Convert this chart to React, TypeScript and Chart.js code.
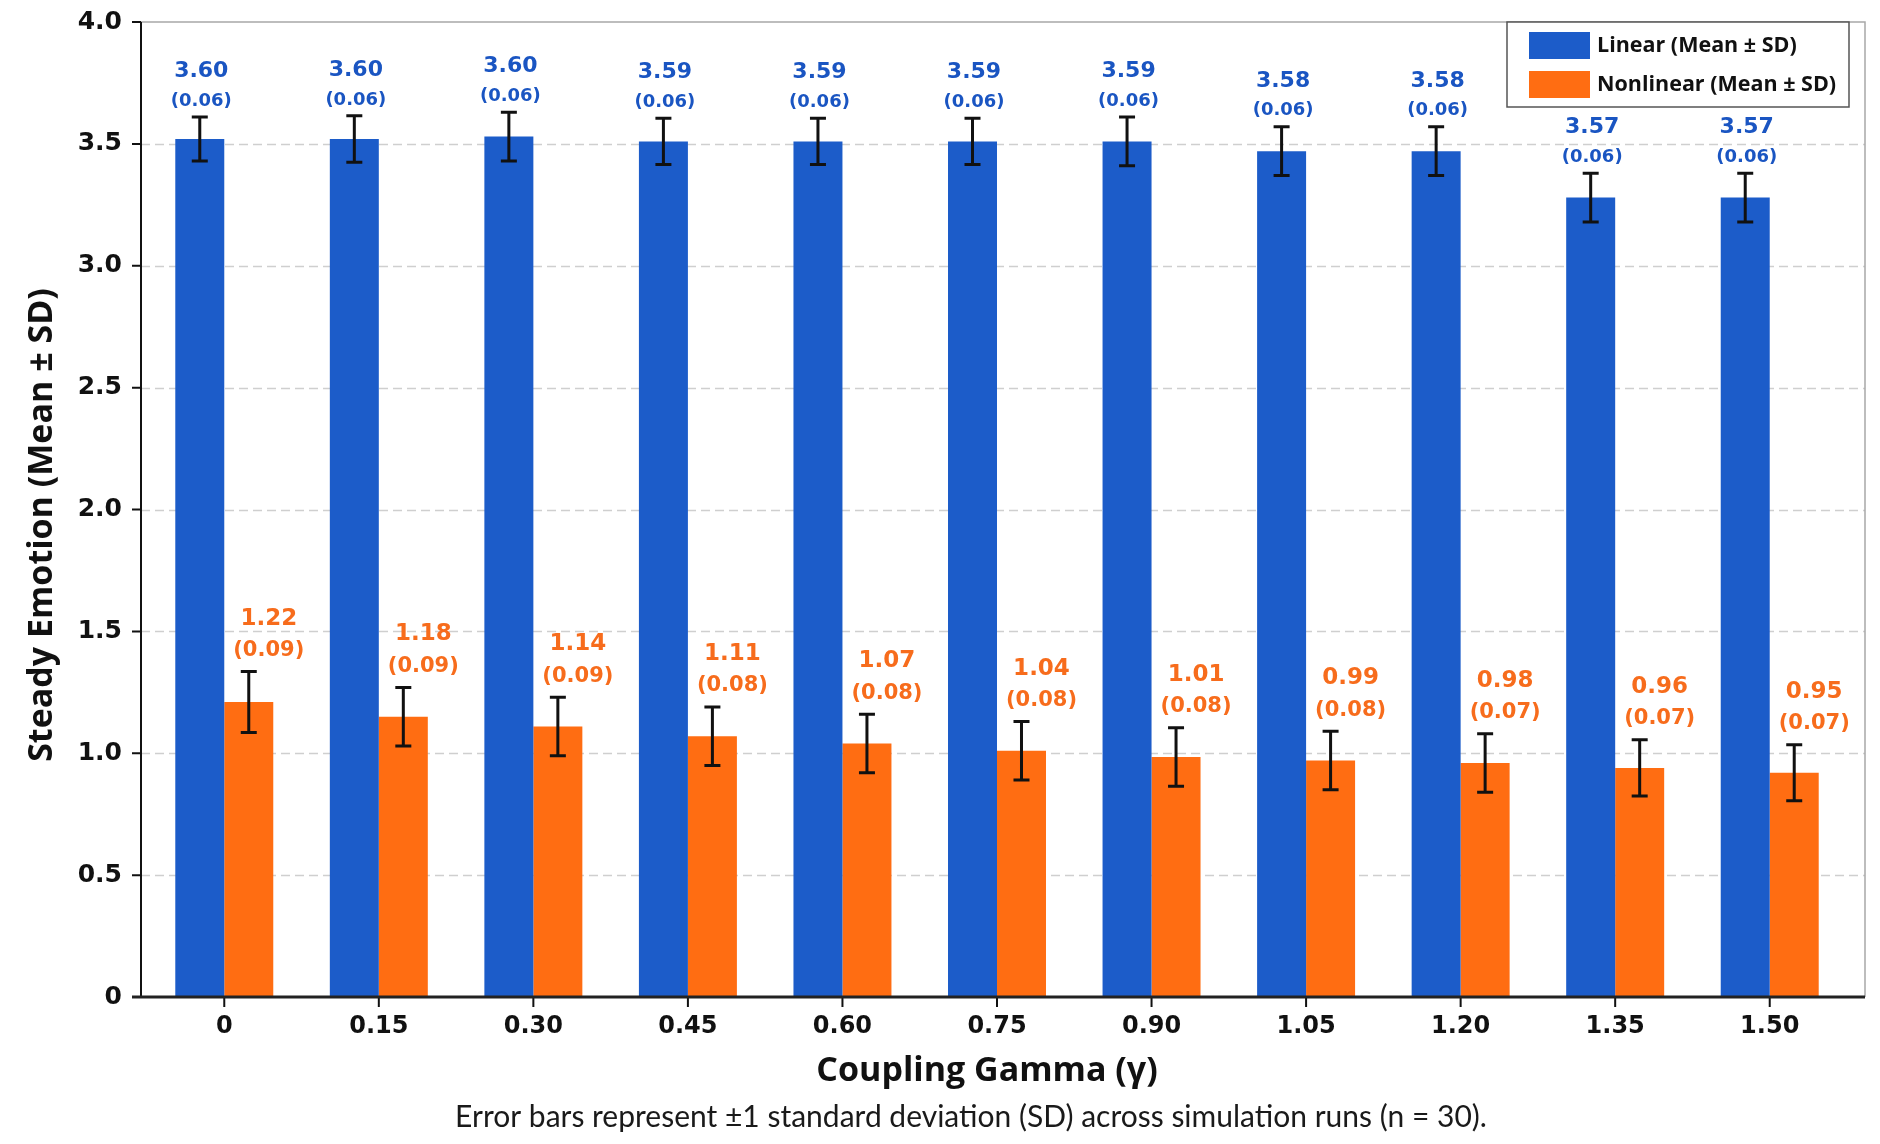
import React, { useEffect, useRef } from 'react';
import { Chart, registerables } from 'chart.js';

Chart.register(...registerables);

// coupling gamma values on the x axis
const categories = ['0', '0.15', '0.30', '0.45', '0.60', '0.75', '0.90', '1.05', '1.20', '1.35', '1.50'];

// bar heights and error-bar half lengths as drawn in the figure
const linearMean = [3.52, 3.52, 3.53, 3.51, 3.51, 3.51, 3.51, 3.47, 3.47, 3.28, 3.28];
const linearSd = [0.09, 0.095, 0.1, 0.095, 0.095, 0.095, 0.1, 0.1, 0.1, 0.1, 0.1];
const nonlinearMean = [1.21, 1.15, 1.11, 1.07, 1.04, 1.01, 0.985, 0.97, 0.96, 0.94, 0.92];
const nonlinearSd = [0.125, 0.12, 0.12, 0.12, 0.12, 0.12, 0.12, 0.12, 0.12, 0.115, 0.115];

// numbers printed above the bars
const linearLabel = [3.6, 3.6, 3.6, 3.59, 3.59, 3.59, 3.59, 3.58, 3.58, 3.57, 3.57];
const linearSdLabel = [0.06, 0.06, 0.06, 0.06, 0.06, 0.06, 0.06, 0.06, 0.06, 0.06, 0.06];
const nonlinearLabel = [1.22, 1.18, 1.14, 1.11, 1.07, 1.04, 1.01, 0.99, 0.98, 0.96, 0.95];
const nonlinearSdLabel = [0.09, 0.09, 0.09, 0.08, 0.08, 0.08, 0.08, 0.08, 0.07, 0.07, 0.07];

const yTicks = [0, 0.5, 1, 1.5, 2, 2.5, 3, 3.5, 4];

const BLUE = '#1c5cc9';
const ORANGE = '#ff6d12';
const BLUE_TEXT = '#1a55c2';
const ORANGE_TEXT = '#f76c1c';
const NUM_FONT = '"DejaVu Sans", Verdana, sans-serif';
const TITLE_FONT = '"Open Sans", "Noto Sans", sans-serif';
const AXIS_X = 141;
const FRAME_RIGHT = 1865;

const sdList = [linearSd, nonlinearSd];
const labelList = [linearLabel, nonlinearLabel];
const sdLabelList = [linearSdLabel, nonlinearSdLabel];

const overlay = {
  id: 'overlay',
  beforeDatasetsDraw(chart: any) {
    const { ctx, chartArea, scales } = chart;
    const y = scales.y;
    ctx.save();
    // dashed grid
    ctx.strokeStyle = '#cfcfcf';
    ctx.lineWidth = 1.5;
    ctx.setLineDash([9, 5]);
    yTicks.forEach((t) => {
      if (t === 0 || t === 4) return;
      const py = Math.round(y.getPixelForValue(t)) + 0.5;
      ctx.beginPath();
      ctx.moveTo(AXIS_X, py);
      ctx.lineTo(FRAME_RIGHT, py);
      ctx.stroke();
    });
    ctx.setLineDash([]);
    // top and right frame
    ctx.strokeStyle = '#a8a8a8';
    ctx.lineWidth = 1.5;
    const top = y.getPixelForValue(4);
    ctx.beginPath();
    ctx.moveTo(AXIS_X, top);
    ctx.lineTo(FRAME_RIGHT, top);
    ctx.lineTo(FRAME_RIGHT, chartArea.bottom);
    ctx.stroke();
    ctx.restore();
  },
  afterDatasetsDraw(chart: any) {
    const { ctx, scales } = chart;
    const x = scales.x;
    const y = scales.y;
    ctx.save();
    chart.data.datasets.forEach((ds: any, di: number) => {
      const meta = chart.getDatasetMeta(di);
      meta.data.forEach((bar: any, i: number) => {
        const mean = ds.data[i];
        const sd = sdList[di][i];
        const yTop = y.getPixelForValue(mean + sd);
        const yBot = y.getPixelForValue(mean - sd);
        const bx = bar.x;
        ctx.strokeStyle = '#111';
        ctx.lineWidth = 3;
        ctx.beginPath();
        ctx.moveTo(bx, yTop);
        ctx.lineTo(bx, yBot);
        ctx.moveTo(bx - 8, yTop);
        ctx.lineTo(bx + 8, yTop);
        ctx.moveTo(bx - 8, yBot);
        ctx.lineTo(bx + 8, yBot);
        ctx.stroke();

        ctx.textAlign = 'center';
        ctx.textBaseline = 'middle';
        if (di === 0) {
          ctx.fillStyle = BLUE_TEXT;
          ctx.font = `bold 22px ${NUM_FONT}`;
          ctx.fillText(labelList[di][i].toFixed(2), bx + 1.5, yTop - 46);
          ctx.font = `bold 18px ${NUM_FONT}`;
          ctx.fillText(`(${sdLabelList[di][i].toFixed(2)})`, bx + 1.5, yTop - 16);
        } else {
          // the orange numbers sit a little to the right of their bar
          ctx.fillStyle = ORANGE_TEXT;
          ctx.font = `bold 23px ${NUM_FONT}`;
          ctx.fillText(labelList[di][i].toFixed(2), bx + 20, yTop - 53);
          ctx.font = `bold 21px ${NUM_FONT}`;
          ctx.fillText(`(${sdLabelList[di][i].toFixed(2)})`, bx + 20, yTop - 21);
        }
      });
    });

    // axes with their tick marks
    const y0 = y.getPixelForValue(0);
    const y4 = y.getPixelForValue(4);
    ctx.strokeStyle = '#111';
    ctx.lineWidth = 2;
    ctx.beginPath();
    ctx.moveTo(AXIS_X, y4);
    ctx.lineTo(AXIS_X, y0);
    yTicks.forEach((t) => {
      const py = y.getPixelForValue(t);
      ctx.moveTo(AXIS_X - 9, py);
      ctx.lineTo(AXIS_X, py);
    });
    categories.forEach((_, i) => {
      const px = x.getPixelForValue(i);
      ctx.moveTo(px, y0);
      ctx.lineTo(px, y0 + 10);
    });
    ctx.stroke();
    ctx.strokeStyle = '#222';
    ctx.lineWidth = 3;
    ctx.beginPath();
    ctx.moveTo(AXIS_X - 9, y0);
    ctx.lineTo(FRAME_RIGHT, y0);
    ctx.stroke();
    ctx.restore();
  },
  afterDraw(chart: any) {
    const { ctx } = chart;
    ctx.save();
    // axis titles and note
    ctx.fillStyle = '#111';
    ctx.font = `bold 34px ${TITLE_FONT}`;
    ctx.textAlign = 'center';
    ctx.textBaseline = 'alphabetic';
    ctx.fillText('Coupling Gamma (γ)', 987, 1081);
    ctx.save();
    ctx.translate(52, 525);
    ctx.rotate(-Math.PI / 2);
    ctx.fillText('Steady Emotion (Mean ± SD)', 0, 0);
    ctx.restore();
    ctx.font = `30px Lato, ${TITLE_FONT}`;
    ctx.fillStyle = '#1a1a1a';
    ctx.fillText('Error bars represent ±1 standard deviation (SD) across simulation runs (n = 30).', 971, 1127);

    // legend
    ctx.fillStyle = '#fff';
    ctx.fillRect(1507, 22, 342, 85);
    ctx.strokeStyle = '#555';
    ctx.lineWidth = 1.5;
    ctx.strokeRect(1507, 22, 342, 85);
    const items = [
      { text: 'Linear (Mean ± SD)', color: BLUE, y: 32 },
      { text: 'Nonlinear (Mean ± SD)', color: ORANGE, y: 71 },
    ];
    ctx.font = `bold 21.5px ${TITLE_FONT}`;
    ctx.textAlign = 'left';
    ctx.textBaseline = 'middle';
    items.forEach((it) => {
      ctx.fillStyle = it.color;
      ctx.fillRect(1529, it.y, 61, 27);
      ctx.fillStyle = '#111';
      ctx.fillText(it.text, 1597, it.y + 14);
    });
    ctx.restore();
  },
};

const App: React.FC = () => {
  const chartRef = useRef<HTMLCanvasElement | null>(null);
  const chartInstanceRef = useRef<Chart | null>(null);

  useEffect(() => {
    document.body.style.margin = '0';
    document.body.style.background = '#fff';
    if (chartRef.current) {
      const ctx = chartRef.current.getContext('2d');
      if (ctx) {
        chartInstanceRef.current = new Chart(ctx, {
          type: 'bar',
          data: {
            labels: categories,
            datasets: [
              {
                label: 'Linear (Mean ± SD)',
                data: linearMean,
                backgroundColor: BLUE,
                borderWidth: 0,
                categoryPercentage: 0.634,
                barPercentage: 1.0,
              },
              {
                label: 'Nonlinear (Mean ± SD)',
                data: nonlinearMean,
                backgroundColor: ORANGE,
                borderWidth: 0,
                categoryPercentage: 0.634,
                barPercentage: 1.0,
              },
            ],
          },
          options: {
            responsive: false,
            animation: false,
            devicePixelRatio: 1,
            layout: { padding: { top: 22, right: 33, left: 0, bottom: 0 } },
            plugins: {
              legend: { display: false },
              tooltip: { enabled: false },
            },
            scales: {
              x: {
                grid: { display: false, drawTicks: false, tickLength: 0 },
                border: { display: false },
                ticks: {
                  color: '#111',
                  padding: 15,
                  font: { family: NUM_FONT, size: 24, weight: 'bold' },
                },
                afterFit: (scale: any) => {
                  scale.height = 147;
                  scale.paddingLeft = 0;
                  scale.paddingRight = 0;
                },
              },
              y: {
                min: 0,
                max: 4,
                grid: { display: false, drawTicks: false, tickLength: 0 },
                border: { display: false },
                ticks: {
                  stepSize: 0.5,
                  color: '#111',
                  padding: 25,
                  font: { family: NUM_FONT, size: 25, weight: 'bold' },
                  callback: (v: any) => (Number(v) === 0 ? '0' : Number(v).toFixed(1)),
                },
                afterFit: (scale: any) => {
                  scale.width = 147;
                  scale.paddingTop = 0;
                  scale.paddingBottom = 0;
                },
              },
            },
          },
          plugins: [overlay],
        });
      }
    }

    return () => {
      if (chartInstanceRef.current) {
        chartInstanceRef.current.destroy();
      }
    };
  }, []);

  return (
    <div style={{ width: 1880, height: 1144, background: '#fff' }}>
      <canvas ref={chartRef} width={1880} height={1144} style={{ display: 'block' }} />
    </div>
  );
};

export default App;
